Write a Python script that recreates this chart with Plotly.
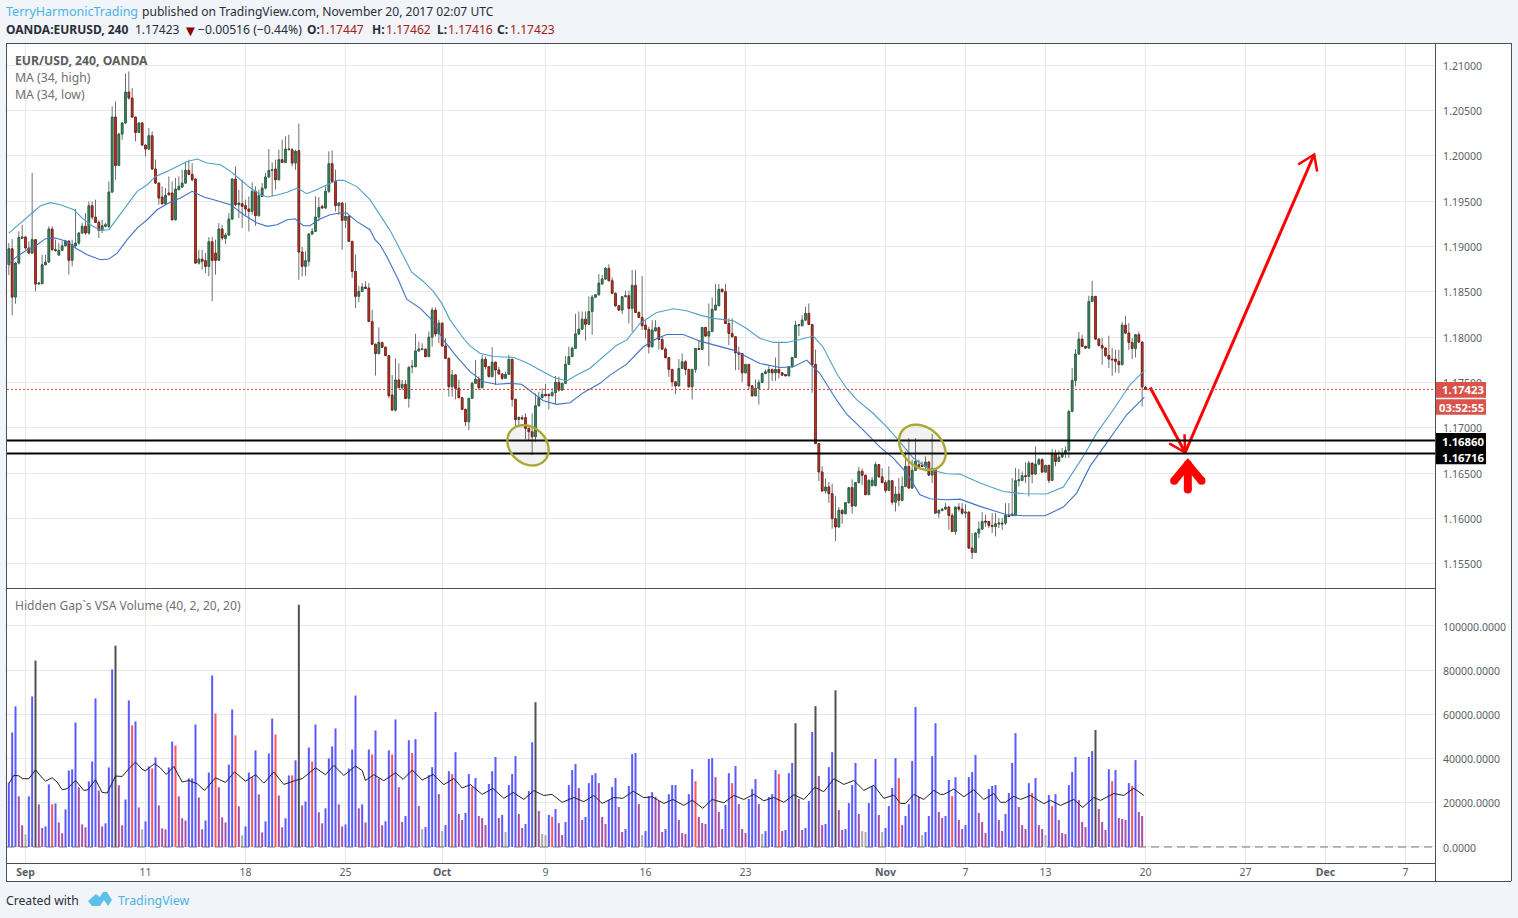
import math
import plotly.graph_objects as go

W, H = 1518, 918
FONT = "Noto Sans"

# ---------- price candles, one entry per 4-hour bar ----------
opens = [
1.18798,1.18974,1.18441,1.18816,1.19088,1.19103,1.18982,1.18926,1.19074,1.18585,
1.18588,1.18798,1.18827,1.19191,1.18963,1.18904,1.18956,1.19007,1.19059,1.18846,
1.19007,1.19037,1.19147,1.19221,1.19147,1.19448,1.19323,1.19265,1.19176,1.19221,
1.19221,1.19599,1.20426,1.19893,1.20239,1.20360,1.20702,1.20636,1.20426,1.20257,
1.20360,1.20117,1.20073,1.20220,1.19853,1.19698,1.19544,1.19470,1.19588,1.19588,
1.19294,1.19625,1.19654,1.19698,1.19838,1.19794,1.19743,1.18816,1.18860,1.18842,
1.18779,1.19051,1.18926,1.18846,1.19191,1.19088,1.19125,1.19301,1.19743,1.19460,
1.19470,1.19448,1.19412,1.19386,1.19607,1.19338,1.19551,1.19643,1.19765,1.19838,
1.19853,1.19735,1.19956,1.19926,1.20066,1.20066,1.19919,1.20055,1.18938,1.18780,
1.18835,1.19136,1.19166,1.19324,1.19441,1.19423,1.19607,1.19912,1.19717,1.19449,
1.19478,1.19287,1.19331,1.19055,1.18724,1.18449,1.18504,1.18552,1.18540,1.18171,
1.17921,1.17818,1.17939,1.17888,1.17796,1.17361,1.17195,1.17527,1.17442,1.17479,
1.17324,1.17670,1.17674,1.17847,1.17862,1.17866,1.17785,1.17998,1.18297,1.18035,
1.18153,1.17902,1.17766,1.17453,1.17582,1.17435,1.17332,1.17203,1.17066,1.17324,
1.17490,1.17534,1.17442,1.17755,1.17674,1.17564,1.17722,1.17637,1.17593,1.17545,
1.17589,1.17755,1.17313,1.17092,1.17111,1.17111,1.16993,1.16956,1.16901,1.17243,
1.17332,1.17368,1.17368,1.17354,1.17387,1.17501,1.17416,1.17490,1.17700,1.17785,
1.17877,1.18035,1.18087,1.18197,1.18142,1.18282,1.18440,1.18466,1.18585,1.18640,
1.18758,1.18621,1.18482,1.18345,1.18298,1.18445,1.18456,1.18316,1.18570,1.18272,
1.18217,1.18132,1.18084,1.17893,1.18069,1.18103,1.17974,1.17867,1.17775,1.17643,
1.17506,1.17462,1.17654,1.17727,1.17643,1.17451,1.17643,1.17874,1.17863,1.18106,
1.18011,1.18062,1.18298,1.18345,1.18526,1.18500,1.18150,1.18040,1.18003,1.17827,
1.17819,1.17606,1.17698,1.17462,1.17352,1.17433,1.17499,1.17598,1.17609,1.17643,
1.17606,1.17643,1.17606,1.17587,1.17573,1.17672,1.17775,1.18128,1.18125,1.18187,
1.18261,1.18139,1.17698,1.16826,1.16513,1.16303,1.16347,1.16274,1.15998,1.15906,
1.16090,1.16053,1.16174,1.16340,1.16137,1.16395,1.16520,1.16476,1.16263,1.16362,
1.16362,1.16594,1.16458,1.16395,1.16309,1.16416,1.16180,1.16269,1.16199,1.16353,
1.16574,1.16335,1.16530,1.16592,1.16585,1.16574,1.16622,1.16478,1.16548,1.16059,
1.16088,1.16103,1.16125,1.16033,1.15857,1.16125,1.16103,1.16059,1.16070,1.15673,
1.15625,1.15839,1.15883,1.15971,1.15967,1.15923,1.15912,1.15938,1.15949,1.15949,
1.16033,1.16033,1.16033,1.16416,1.16419,1.16471,1.16463,1.16610,1.16489,1.16599,
1.16647,1.16511,1.16585,1.16419,1.16713,1.16629,1.16677,1.16713,1.16750,1.17180,
1.17522,1.17813,1.17978,1.17897,1.17879,1.18393,1.18448,1.17978,1.17908,1.17879,
1.17798,1.17757,1.17757,1.17732,1.17695,1.18132,1.18044,1.17941,1.17875,1.18026,
1.17945,1.17447]

closes = [
1.18974,1.18441,1.18816,1.19099,1.19103,1.18982,1.18926,1.19074,1.18585,1.18596,
1.18798,1.18827,1.19191,1.18963,1.18956,1.18956,1.19007,1.19059,1.18846,1.19018,
1.19037,1.19147,1.19221,1.19147,1.19448,1.19323,1.19265,1.19176,1.19228,1.19239,
1.19599,1.20426,1.19893,1.20239,1.20360,1.20702,1.20636,1.20426,1.20257,1.20360,
1.20117,1.20073,1.20220,1.19853,1.19698,1.19533,1.19470,1.19562,1.19570,1.19294,
1.19632,1.19662,1.19698,1.19838,1.19794,1.19735,1.18816,1.18860,1.18835,1.18779,
1.19051,1.18846,1.18846,1.19191,1.19092,1.19125,1.19301,1.19743,1.19460,1.19478,
1.19441,1.19412,1.19386,1.19607,1.19338,1.19559,1.19643,1.19765,1.19838,1.19845,
1.19735,1.19956,1.19926,1.20073,1.20073,1.19919,1.20048,1.18938,1.18780,1.18842,
1.19136,1.19166,1.19324,1.19430,1.19423,1.19607,1.19912,1.19717,1.19449,1.19478,
1.19287,1.19331,1.19055,1.18724,1.18449,1.18504,1.18552,1.18537,1.18171,1.17921,
1.17818,1.17943,1.17888,1.17796,1.17354,1.17195,1.17527,1.17442,1.17479,1.17324,
1.17667,1.17678,1.17847,1.17869,1.17869,1.17785,1.17998,1.18297,1.18035,1.18153,
1.17902,1.17766,1.17453,1.17582,1.17435,1.17332,1.17203,1.17066,1.17324,1.17490,
1.17534,1.17442,1.17755,1.17674,1.17564,1.17722,1.17637,1.17593,1.17545,1.17589,
1.17755,1.17313,1.17092,1.17114,1.17100,1.16993,1.16956,1.16901,1.17243,1.17332,
1.17368,1.17354,1.17354,1.17387,1.17501,1.17416,1.17490,1.17700,1.17785,1.17877,
1.18035,1.18087,1.18197,1.18142,1.18282,1.18440,1.18466,1.18595,1.18640,1.18758,
1.18621,1.18482,1.18345,1.18298,1.18445,1.18456,1.18316,1.18570,1.18272,1.18217,
1.18125,1.18084,1.17893,1.18077,1.18103,1.17974,1.17867,1.17775,1.17643,1.17506,
1.17462,1.17654,1.17727,1.17643,1.17451,1.17643,1.17874,1.17863,1.18106,1.18011,
1.18062,1.18305,1.18353,1.18526,1.18500,1.18150,1.18040,1.18003,1.17827,1.17812,
1.17606,1.17698,1.17462,1.17352,1.17433,1.17499,1.17598,1.17617,1.17643,1.17606,
1.17643,1.17606,1.17580,1.17573,1.17672,1.17775,1.18132,1.18136,1.18187,1.18261,
1.18139,1.17698,1.16826,1.16513,1.16303,1.16347,1.16274,1.15998,1.15906,1.16090,
1.16053,1.16174,1.16340,1.16137,1.16395,1.16520,1.16476,1.16263,1.16421,1.16421,
1.16594,1.16458,1.16395,1.16309,1.16416,1.16180,1.16269,1.16199,1.16353,1.16574,
1.16335,1.16530,1.16629,1.16574,1.16574,1.16622,1.16478,1.16548,1.16059,1.16088,
1.16103,1.16125,1.16033,1.15857,1.16125,1.16103,1.16059,1.16070,1.15673,1.15625,
1.15839,1.15883,1.15967,1.15960,1.15923,1.15912,1.15941,1.15949,1.15941,1.16033,
1.16022,1.16048,1.16416,1.16427,1.16471,1.16463,1.16610,1.16489,1.16599,1.16647,
1.16511,1.16585,1.16419,1.16713,1.16629,1.16677,1.16713,1.16750,1.17180,1.17522,
1.17813,1.17978,1.17897,1.17879,1.18393,1.18448,1.17978,1.17908,1.17879,1.17798,
1.17757,1.17750,1.17732,1.17695,1.18132,1.18044,1.17941,1.17875,1.18026,1.17945,
1.17449,1.17423]

highs = [
1.19037,1.19081,1.18830,1.19165,1.19239,1.19110,1.19055,1.19809,1.19080,1.18600,
1.18908,1.18908,1.19221,1.19221,1.19074,1.19037,1.19060,1.19074,1.19066,1.19074,
1.19412,1.19155,1.19257,1.19368,1.19496,1.19496,1.19515,1.19294,1.19294,1.19260,
1.19717,1.20544,1.20599,1.20250,1.20370,1.20904,1.20930,1.20746,1.20430,1.20370,
1.20370,1.20125,1.20305,1.20268,1.19956,1.19705,1.19662,1.19643,1.19772,1.19717,
1.19754,1.19772,1.19845,1.19919,1.19956,1.19919,1.19750,1.18963,1.18963,1.18926,
1.19103,1.19103,1.19074,1.19257,1.19239,1.19147,1.19368,1.19750,1.19882,1.19625,
1.19735,1.19515,1.19551,1.19706,1.19662,1.19625,1.19698,1.19809,1.20073,1.19926,
1.19956,1.20066,1.20176,1.20213,1.20231,1.20084,1.20066,1.20353,1.18993,1.18945,
1.19145,1.19202,1.19552,1.19544,1.19460,1.19662,1.20048,1.20059,1.19846,1.19485,
1.19485,1.19478,1.19338,1.19060,1.18908,1.18566,1.18596,1.18614,1.18595,1.18300,
1.17927,1.18109,1.17950,1.17895,1.17800,1.17582,1.17766,1.17711,1.17527,1.17527,
1.17675,1.17748,1.18035,1.17950,1.17932,1.17875,1.18061,1.18326,1.18326,1.18190,
1.18160,1.17987,1.17772,1.17637,1.17590,1.17527,1.17340,1.17210,1.17330,1.17508,
1.17748,1.17564,1.17803,1.17785,1.17680,1.17888,1.17730,1.17674,1.17600,1.17619,
1.17803,1.17762,1.17320,1.17125,1.17140,1.17158,1.17000,1.17158,1.17379,1.17398,
1.17435,1.17483,1.17375,1.17435,1.17571,1.17564,1.17497,1.17792,1.17895,1.17895,
1.18256,1.18282,1.18282,1.18282,1.18448,1.18466,1.18475,1.18694,1.18684,1.18770,
1.18802,1.18658,1.18493,1.18350,1.18452,1.18511,1.18511,1.18739,1.18739,1.18280,
1.18673,1.18187,1.18114,1.18187,1.18187,1.18114,1.18003,1.17885,1.17780,1.17650,
1.17512,1.17757,1.17819,1.17746,1.17650,1.17650,1.17880,1.17966,1.18112,1.18112,
1.18371,1.18437,1.18585,1.18585,1.18537,1.18585,1.18206,1.18206,1.18010,1.17893,
1.17827,1.17705,1.17705,1.17470,1.17532,1.17532,1.17606,1.17643,1.17690,1.17654,
1.17775,1.17937,1.17612,1.17593,1.17680,1.17782,1.18180,1.18143,1.18242,1.18334,
1.18371,1.18145,1.17863,1.16832,1.16575,1.16439,1.16402,1.16384,1.16244,1.16127,
1.16097,1.16180,1.16347,1.16432,1.16402,1.16568,1.16550,1.16483,1.16430,1.16458,
1.16623,1.16600,1.16555,1.16420,1.16574,1.16425,1.16353,1.16445,1.16463,1.16739,
1.16886,1.16647,1.16886,1.16647,1.16629,1.16684,1.16630,1.16934,1.16555,1.16103,
1.16114,1.16169,1.16140,1.16059,1.16132,1.16169,1.16169,1.16158,1.16077,1.15839,
1.15846,1.15967,1.16070,1.16041,1.15975,1.16059,1.16059,1.16004,1.16004,1.16169,
1.16169,1.16445,1.16555,1.16544,1.16519,1.16618,1.16636,1.16618,1.16794,1.16666,
1.16666,1.16592,1.16592,1.16765,1.16758,1.16750,1.16776,1.16794,1.17199,1.17658,
1.17868,1.18055,1.18026,1.17904,1.18456,1.18621,1.18455,1.17985,1.17989,1.17885,
1.18015,1.17879,1.17860,1.17860,1.18165,1.18235,1.18154,1.17989,1.18033,1.18062,
1.17952,1.17462]

lows = [
1.18684,1.18239,1.18368,1.18800,1.19080,1.18963,1.18919,1.18919,1.18504,1.18580,
1.18585,1.18790,1.18820,1.18955,1.18941,1.18900,1.18950,1.19000,1.18688,1.18779,
1.18982,1.19018,1.19140,1.19129,1.19130,1.19294,1.19257,1.19092,1.19147,1.19210,
1.19202,1.19590,1.19735,1.19885,1.20176,1.20350,1.20617,1.20418,1.20158,1.20250,
1.20110,1.19993,1.20065,1.19845,1.19690,1.19460,1.19462,1.19462,1.19560,1.19283,
1.19285,1.19618,1.19643,1.19690,1.19785,1.19717,1.18810,1.18798,1.18743,1.18706,
1.18669,1.18393,1.18688,1.18840,1.19066,1.19029,1.19118,1.19295,1.19441,1.19312,
1.19202,1.19331,1.19165,1.19349,1.19228,1.19330,1.19545,1.19625,1.19754,1.19551,
1.19625,1.19728,1.19918,1.19920,1.20060,1.19882,1.19845,1.18632,1.18669,1.18677,
1.18780,1.19130,1.19160,1.19276,1.19415,1.19415,1.19588,1.19710,1.19386,1.19349,
1.18963,1.19202,1.19048,1.18651,1.18320,1.18383,1.18495,1.18530,1.18165,1.17915,
1.17575,1.17810,1.17880,1.17790,1.17324,1.17190,1.17177,1.17435,1.17416,1.17317,
1.17221,1.17600,1.17667,1.17840,1.17855,1.17775,1.17778,1.17895,1.18006,1.17932,
1.17895,1.17760,1.17343,1.17343,1.17313,1.17325,1.17195,1.17019,1.16974,1.17317,
1.17483,1.17416,1.17435,1.17645,1.17556,1.17556,1.17472,1.17586,1.17527,1.17538,
1.17582,1.17232,1.17011,1.17030,1.17085,1.16871,1.16864,1.16698,1.16845,1.17235,
1.17325,1.17345,1.17203,1.17343,1.17262,1.17398,1.17405,1.17483,1.17693,1.17778,
1.17870,1.18024,1.18080,1.17961,1.18135,1.18024,1.18435,1.18460,1.18578,1.18630,
1.18615,1.18474,1.18334,1.18290,1.18253,1.18440,1.18150,1.18058,1.18265,1.18210,
1.18077,1.17985,1.17819,1.17885,1.18062,1.17863,1.17856,1.17764,1.17562,1.17451,
1.17370,1.17455,1.17648,1.17580,1.17445,1.17311,1.17606,1.17856,1.17856,1.18005,
1.17679,1.18055,1.18290,1.18340,1.18495,1.18145,1.17911,1.17995,1.17635,1.17635,
1.17506,1.17600,1.17414,1.17341,1.17349,1.17256,1.17492,1.17590,1.17422,1.17517,
1.17517,1.17543,1.17575,1.17568,1.17568,1.17665,1.17770,1.18011,1.18118,1.18180,
1.18132,1.17385,1.16820,1.16413,1.16297,1.16274,1.16170,1.15887,1.15751,1.15900,
1.15942,1.16045,1.16163,1.16053,1.16130,1.16388,1.16365,1.16255,1.16255,1.16355,
1.16355,1.16450,1.16395,1.16285,1.16300,1.16150,1.16077,1.16133,1.16190,1.16345,
1.16328,1.16328,1.16522,1.16565,1.16567,1.16519,1.16470,1.16390,1.16050,1.16004,
1.16077,1.16096,1.15875,1.15850,1.15820,1.16077,1.16041,1.16004,1.15665,1.15552,
1.15618,1.15783,1.15875,1.15912,1.15894,1.15839,1.15802,1.15894,1.15875,1.15930,
1.16015,1.16022,1.16026,1.16353,1.16408,1.16390,1.16243,1.16390,1.16482,1.16592,
1.16504,1.16504,1.16390,1.16412,1.16574,1.16622,1.16670,1.16666,1.16666,1.17172,
1.17456,1.17805,1.17890,1.17868,1.17868,1.18385,1.17970,1.17897,1.17695,1.17779,
1.17658,1.17574,1.17610,1.17603,1.17690,1.18037,1.17860,1.17757,1.17776,1.17938,
1.17235,1.17416]

# ---------- MA (34, high) ----------
ma_high_x = [0,3.5,6.5,9.5,12.5,15.5,19.5,22,24.5,27.5,30,32.5,35.5,38.5,41.5,44,47.5,50.5,53.5,56.5,59.5,63.5,66.5,69.5,72.5,75.5,77.5,80.5,83.5,86.5,
89.35,92.35,95.35,98.35,100.35,104.35,108.35,111.35,114.35,115.85,118.35,120.85,124.35,127.35,129.85,132.35,136.35,138.35,141.35,145.35,151.35,155.35,159.35,163.35,167.35,170.35,174.35,177.35,
182.35,185.35,189.35,194.35,199.35,203.35,207.35,211.35,217.35,221.35,225.35,229.35,233.35,237.35,241.35,244.35,248.35,251.35,254.35,259.35,263.35,266.35,271.35,276.35,281.35,285.35,291.35,298.35,304.35,311.35,316.35,322.35,326.35,331.35,336.35,340.65]
ma_high = [1.19147,1.19257,1.19349,1.19448,1.19482,1.19460,1.19404,1.19312,1.19239,1.19176,1.19184,1.19312,1.19460,1.19607,1.19680,1.19772,1.19827,1.19882,1.19937,1.19963,1.19919,1.19901,1.19827,1.19735,1.19643,1.19570,1.19544,1.19566,1.19596,1.19643,
1.19581,1.19625,1.19680,1.19728,1.19728,1.19662,1.19515,1.19349,1.19177,1.19074,1.18890,1.18716,1.18613,1.18503,1.18374,1.18190,1.17987,1.17902,1.17821,1.17785,1.17777,1.17718,1.17637,1.17556,1.17516,1.17582,1.17656,1.17750,
1.17911,1.17966,1.18150,1.18272,1.18312,1.18290,1.18242,1.18206,1.18180,1.18095,1.17985,1.17941,1.17941,1.17974,1.18011,1.17885,1.17598,1.17433,1.17311,1.17157,1.17010,1.16886,1.16666,1.16537,1.16493,1.16489,1.16390,1.16298,1.16272,1.16269,1.16346,1.16684,1.16941,1.17199,1.17474,1.17629]

# ---------- MA (34, low) ----------
ma_low_x = [0,2.5,5.5,8.5,11,14,17.5,20,23.5,27.5,30,32.5,35.5,38.5,41.5,44.5,47.5,51.5,55,58.5,62.5,66.5,70.5,74.5,77.5,80.5,83.5,85.85,88.35,90.35,92.85,96.35,99.35,101.35,104.35,108.35,109.85,111.35,113.35,116.85,119.35,123.35,126.85,130.35,134.35,138.35,142.35,146.35,150.35,153.85,157.35,160.35,164.35,168.35,172.35,177.35,
180.35,185.35,190.35,194.35,197.35,202.35,207.35,213.35,217.35,222.35,225.35,231.35,235.35,239.35,243.35,248.35,251.35,256.35,261.35,265.35,269.35,273.35,276.35,281.35,285.35,291.35,299.35,304.35,310.85,316.35,320.35,324.35,329.35,335.35,340.65]
ma_low = [1.18816,1.18890,1.18963,1.19018,1.19085,1.19092,1.19055,1.18982,1.18908,1.18853,1.18860,1.18926,1.19074,1.19202,1.19294,1.19404,1.19470,1.19533,1.19607,1.19544,1.19504,1.19460,1.19349,1.19257,1.19221,1.19239,1.19294,1.19305,1.19228,1.19228,1.19294,1.19349,1.19368,1.19368,1.19276,1.19184,1.19074,1.19018,1.18890,1.18632,1.18418,1.18319,1.18190,1.17969,1.17785,1.17619,1.17508,1.17479,1.17490,1.17479,1.17380,1.17298,1.17258,1.17276,1.17387,1.17490,
1.17580,1.17701,1.17893,1.17985,1.18029,1.18029,1.17955,1.17900,1.17856,1.17764,1.17709,1.17665,1.17672,1.17746,1.17598,1.17304,1.17149,1.16973,1.16787,1.16666,1.16500,1.16261,1.16217,1.16206,1.16213,1.16133,1.16041,1.16030,1.16030,1.16125,1.16280,1.16574,1.16831,1.17143,1.17338]

# ---------- volume (thousands) and VSA bar kinds ----------
volume_k = [
29.1,51.8,63.6,22.9,9.8,5.7,22.9,68.1,84.3,19.3,
8.6,9.3,28.3,19.3,19.7,11.1,6.2,17.0,34.6,35.1,
56.3,27.0,10.2,8.9,29.7,38.7,67.2,25.6,9.3,10.7,
36.0,80.3,91.1,27.9,9.8,21.5,66.3,55.0,56.8,17.9,
8.0,11.6,36.4,35.5,40.5,18.8,8.4,8.0,36.0,47.7,
45.9,22.9,13.0,12.0,31.0,31.0,55.4,22.4,8.0,12.0,
33.7,77.6,60.4,27.0,13.4,11.1,37.3,62.2,50.5,18.4,
5.3,9.3,33.7,31.6,43.7,23.8,6.6,11.6,42.3,58.1,
50.9,23.3,8.9,13.0,32.4,32.4,39.2,109.6,18.8,20.6,
45.0,38.7,55.4,15.7,10.7,17.5,40.1,45.5,53.6,19.3,
9.3,10.2,35.5,44.1,68.5,17.5,19.3,11.1,44.1,41.9,
52.7,31.0,9.8,11.6,43.7,41.9,57.7,27.0,11.3,14.0,
48.3,42.5,48.8,18.5,8.1,9.0,32.5,36.1,61.0,23.9,
7.2,9.9,34.3,33.0,42.9,14.9,12.2,15.4,33.0,27.1,
31.2,14.0,13.1,9.9,28.5,34.3,40.7,13.1,14.5,6.8,
28.0,33.0,41.1,14.9,8.6,10.4,25.3,47.4,65.5,16.3,
5.9,5.4,14.5,13.6,17.2,10.8,5.4,11.3,28.0,34.8,
37.5,26.7,12.2,13.6,28.9,32.5,33.4,28.9,13.6,10.4,
21.2,27.1,31.2,18.1,6.8,8.1,27.6,42.0,42.5,19.4,
5.4,7.2,23.0,24.8,22.7,20.8,6.8,8.1,23.9,28.0,
28.0,12.2,6.3,5.9,23.9,35.2,29.8,13.6,10.8,10.4,
39.8,40.2,31.6,15.8,8.1,19.0,33.4,28.9,36.6,19.4,
8.1,6.3,21.7,26.2,30.7,19.4,5.9,7.2,22.6,23.9,
34.8,33.0,7.2,7.7,33.4,38.0,56.0,21.7,7.7,8.6,
20.8,52.0,63.7,32.1,9.9,10.4,36.1,42.9,70.9,16.7,
7.7,8.1,19.9,28.0,38.0,14.9,7.2,6.8,19.9,27.6,
39.8,14.5,6.8,8.6,18.5,26.7,40.2,31.2,9.9,14.0,
19.4,38.9,63.3,22.6,5.4,6.8,14.0,41.1,56.0,15.8,
13.1,14.0,30.3,23.0,31.6,12.2,8.1,9.9,31.6,33.9,
41.6,15.4,11.3,6.3,26.2,27.6,28.0,12.2,7.2,14.9,
24.4,38.0,51.5,18.1,9.9,8.1,28.9,24.4,31.2,9.9,
8.1,5.4,23.5,18.5,23.9,12.2,6.3,5.9,28.0,33.9,
40.7,21.2,11.3,9.0,40.7,43.4,52.9,17.2,11.3,7.7,
35.2,29.8,34.8,13.1,12.7,12.2,28.9,27.6,39.3,15.8,
14.0,0.0]

volume_kind = (
"BBBPPGBBKP" "PBBRBPPBBB" "BPPPBBBPPB" "BBKPPBBRBP" "GBBRBPPPBB"
"RPPPBBBPPB" "BBRPPPBBRP" "GBBRBPPBBB" "RPPBBRBKPB" "BRBPPBBBBP"
"PBBBBPBPBR" "BPPBBRBPPB" "BRBPGBBBBP" "GBBRBPPBBR" "BPPPBBBPBG"
"BBBPPBBBKP" "GGBRBPPBBB" "BPPBBBBPPP" "BBBPPBBBBP" "GBBBPPPBBB"
"BPPPBBRPPP" "BBPPPBBRBP" "PPBBBPGBBB" "BRPBBBKPPB" "BBKPPBBBKP"
"PBBBBPGGBB" "BPGBBBBRPB" "BBBPGBBBBP" "PBBRBPPBBB" "BPPPBBBPPB"
"BBBPPPBRBP" "PGBRBPPPBB" "BPPPBBKPPP" "BRBPPPBRBP" "PG")

# ---------- volume moving average (thousands) ----------
vol_ma_x = [0.1,1.5,3,4.1,6,8,10,11,13,14.5,16,17.5,20,22.5,23.7,26,28,29.5,32,34,36,38,40,41,43.7,45.5,47.2,49.5,52,54,56.5,58.7,62,65,67.7,71,74,76.5,79.5,82.5,86,88,92,95,97.5,100.5,104,106,107,109.5,112.5,116,
118.3,121,124,127.3,130.5,133.5,136,138.5,142,145.2,148.5,151.3,154.5,157.5,160.5,163,166,169.5,172.5,175.5,178,181.5,184.2,187.3,190.5,193,196.5,199.2,202.5,205,208.2,211,214.5,217.5,220.5,223.5,226.5,229.5,232.5,235.5,
238.5,241.8,244.5,247.5,250.5,253.5,256.5,259.5,262.5,265.5,267.5,269,271.5,274.5,277.5,279.5,280.5,283.5,286.5,289.5,292.5,295.5,297.5,299,301.5,303.5,306.5,310.5,312.5,315.5,319.5,322.2,325.5,327.5,331.5,334.5,337.5,340.5]
vol_ma_k = [28.9,32.4,32.2,30.9,30.9,34.9,31.3,29.8,31.3,29.4,25.9,26.4,30.1,25.6,25.9,30.4,24.7,24.4,32.1,31.9,35.4,38.4,35.1,34.5,37.7,35.7,32.8,36.4,29.4,30.1,28.6,25.6,31.3,29.2,34.0,29.8,32.7,28.9,33.9,28.3,30.1,30.9,35.8,32.7,36.9,32.4,36.6,34.6,30.1,32.7,30.0,33.6,
30.6,34.8,30.3,32.8,28.2,31.0,26.7,28.2,23.8,26.5,22.0,24.7,21.5,25.5,23.3,23.8,20.2,22.4,20.5,23.3,19.7,22.4,22.0,25.2,22.3,22.7,19.7,21.5,18.8,21.2,17.5,21.5,20.0,23.3,21.5,23.8,20.9,22.4,20.2,23.6,
21.5,27.0,25.0,30.9,28.3,30.1,25.6,27.9,22.0,23.5,19.7,19.7,23.8,21.5,25.6,23.8,23.8,26.2,22.7,25.9,21.5,24.2,20.2,20.2,22.9,21.5,23.3,19.6,21.1,18.8,21.5,17.9,22.4,21.1,24.2,23.3,26.6,23.3]

# ---------- axis labels ----------
date_ticks = [5, 41, 71, 101, 130, 161, 191, 221, 263, 287, 311, 341, 371, 395, 419]
date_labels = ["<b>Sep</b>", "11", "18", "25", "<b>Oct</b>", "9", "16", "23", "<b>Nov</b>", "7", "13", "20", "27", "<b>Dec</b>", "7"]
price_ticks = [1.155, 1.16, 1.165, 1.17, 1.175, 1.18, 1.185, 1.19, 1.195, 1.20, 1.205, 1.21]
volume_ticks = [0, 20000, 40000, 60000, 80000, 100000]
level_prices = [1.16860, 1.16716]
last_price = 1.17423

# forecast drawing, (bar, price)
path_x = [342.4, 352.9, 391.6]
path_y = [1.17444, 1.16727, 1.20013]

assert len(opens) == len(closes) == len(highs) == len(lows) == len(volume_k) == len(volume_kind) == 342
assert len(ma_high) == len(ma_high_x) and len(ma_low) == len(ma_low_x) and len(vol_ma_k) == len(vol_ma_x)

bars = list(range(len(opens)))
BODY_UP, EDGE_UP = "#3d9066", "#2a6445"
BODY_DN, EDGE_DN = "#cc3a2b", "#7a2016"
KIND_COLOR = {"B": "#5a5aff", "P": "#a650a8", "R": "#ff5555", "G": "#aaaaaa", "K": "#505050"}
GRID = "#e8e8e8"
BORDER = "#4b4f56"
TICK = "#5a5e66"


def fx(px):
    return px / W


def fy(py):
    return 1 - py / H


XR = [-0.55, 427.85]
fig = go.Figure()

fig.add_trace(go.Scatter(x=ma_high_x, y=ma_high, mode="lines", line=dict(color="#4f9fc8", width=1.1),
                         name="MA (34, high)", xaxis="x", yaxis="y", hoverinfo="skip"))
fig.add_trace(go.Scatter(x=ma_low_x, y=ma_low, mode="lines", line=dict(color="#3f72c6", width=1.1),
                         name="MA (34, low)", xaxis="x", yaxis="y", hoverinfo="skip"))
# wicks
fig.add_trace(go.Candlestick(x=bars, open=opens, high=highs, low=lows, close=closes, whiskerwidth=0,
                             increasing=dict(line=dict(color="#707070", width=1), fillcolor=BODY_UP),
                             decreasing=dict(line=dict(color="#707070", width=1), fillcolor=BODY_DN),
                             xaxis="x", yaxis="y", name="EUR/USD wicks", hoverinfo="skip"))
# bodies with their dark edges
fig.add_trace(go.Candlestick(x=bars, open=opens, close=closes,
                             high=[max(o, c) for o, c in zip(opens, closes)],
                             low=[min(o, c) for o, c in zip(opens, closes)], whiskerwidth=0,
                             increasing=dict(line=dict(color=EDGE_UP, width=0.9), fillcolor=BODY_UP),
                             decreasing=dict(line=dict(color=EDGE_DN, width=0.9), fillcolor=BODY_DN),
                             xaxis="x", yaxis="y", name="EUR/USD", hoverinfo="skip"))

fig.add_trace(go.Bar(x=bars, y=[v * 1000 for v in volume_k], width=0.6,
                     marker=dict(color=[KIND_COLOR[k] for k in volume_kind], line=dict(width=0)),
                     xaxis="x2", yaxis="y2", name="Volume", hoverinfo="skip"))
fig.add_trace(go.Scatter(x=vol_ma_x, y=[v * 1000 for v in vol_ma_k], mode="lines",
                         line=dict(color="#222222", width=1), xaxis="x2", yaxis="y2", name="Volume MA", hoverinfo="skip"))

# forecast path and heads
RED = "#ff0000"
fig.add_trace(go.Scatter(x=path_x, y=path_y, mode="lines", line=dict(color=RED, width=3), xaxis="x", yaxis="y", hoverinfo="skip"))
for hx, hy in [([348.1, 352.9, 352.7], [1.16827, 1.16727, 1.16929]), ([386.8, 391.6, 392.5], [1.19903, 1.20013, 1.19826])]:
    fig.add_trace(go.Scatter(x=hx, y=hy, mode="lines", line=dict(color=RED, width=2.5), xaxis="x", yaxis="y", hoverinfo="skip"))
fig.add_trace(go.Scatter(x=[353.7, 353.7], y=[1.16320, 1.16560], mode="lines+markers", line=dict(color=RED, width=8),
                         marker=dict(color=RED, size=8, line=dict(width=0)), xaxis="x", yaxis="y", hoverinfo="skip"))
fig.add_trace(go.Scatter(x=[349.6, 353.7, 357.8], y=[1.16415, 1.16598, 1.16415], mode="lines+markers",
                         line=dict(color=RED, width=8), marker=dict(color=RED, size=8, line=dict(width=0)),
                         xaxis="x", yaxis="y", hoverinfo="skip"))

shapes = []


def rect(x0, y0, x1, y1, fill, layer="below", line=None):
    shapes.append(dict(type="rect", xref="paper", yref="paper", x0=fx(x0), x1=fx(x1), y0=fy(y0), y1=fy(y1),
                       fillcolor=fill, line=dict(width=0) if line is None else line, layer=layer))


def seg(x0, y0, x1, y1, color, width=1, layer="above", dash=None):
    shapes.append(dict(type="line", xref="paper", yref="paper", x0=fx(x0), x1=fx(x1), y0=fy(y0), y1=fy(y1),
                       line=dict(color=color, width=width, dash=dash), layer=layer))


def ellipse(cx, cy, a, b, tilt):
    t = math.radians(tilt)
    pts = []
    for k in range(73):
        u = 2 * math.pi * k / 72
        ex = a * math.cos(u) * math.cos(t) - b * math.sin(u) * math.sin(t)
        ey = a * math.cos(u) * math.sin(t) + b * math.sin(u) * math.cos(t)
        pts.append((fx(cx + ex), fy(cy + ey)))
    d = "M " + " L ".join(f"{p[0]:.5f},{p[1]:.5f}" for p in pts) + " Z"
    shapes.append(dict(type="path", xref="paper", yref="paper", path=d, fillcolor="rgba(110,110,110,0.09)",
                       line=dict(color="#aaa833", width=2.4), layer="above"))


# white chart card and frame
rect(6, 43, 1511, 881, "#ffffff")
seg(6, 43.5, 1511, 43.5, BORDER)
seg(6, 881.5, 1511, 881.5, BORDER)
seg(6.5, 43, 6.5, 881, BORDER)
seg(1511.5, 43, 1511.5, 881, BORDER)
seg(1435.5, 43, 1435.5, 881, BORDER)
seg(6, 588.5, 1435, 588.5, BORDER)
seg(6, 863.5, 1435, 863.5, BORDER)

# level lines, last price, zero line
for lp in level_prices:
    shapes.append(dict(type="line", xref="paper", yref="y", x0=fx(7), x1=fx(1435), y0=lp, y1=lp,
                       line=dict(color="#000000", width=2), layer="above"))
shapes.append(dict(type="line", xref="paper", yref="y", x0=fx(7), x1=fx(1435), y0=last_price, y1=last_price,
                   line=dict(color="#d2402f", width=1, dash="2px,2px"), layer="above"))
shapes.append(dict(type="line", xref="paper", yref="y2", x0=fx(7), x1=fx(1435), y0=0, y1=0,
                   line=dict(color="#787878", width=1, dash="8px,5px"), layer="above"))

ellipse(528, 445.3, 22.5, 18, 42)
ellipse(922.3, 447.3, 26, 19.5, 42)

# price tags on the right scale
rect(1436, 382, 1486, 397.7, "#d9534a", "above")
rect(1436, 399.3, 1486, 414.7, "#d9534a", "above")
rect(1436, 433, 1486, 464.3, "#000000", "above")

# TradingView logo
LOGO = "#5cc0e8"
shapes.append(dict(type="path", xref="paper", yref="paper", fillcolor=LOGO, line=dict(width=0), layer="above",
                   path="M " + " L ".join(f"{fx(a):.5f},{fy(b):.5f}" for a, b in
                                          [(88, 901), (96, 894), (100, 897), (103, 892), (107, 892), (112, 900),
                                           (108, 906), (104, 900), (100, 906), (92, 906)]) + " Z"))

annotations = []


def txt(x, y, s, size=12, color="#333333", anchor="left"):
    annotations.append(dict(text=s, x=fx(x), y=fy(y), xref="paper", yref="paper", xanchor=anchor, yanchor="middle",
                            showarrow=False, borderpad=0, borderwidth=0,
                            font=dict(family=FONT, size=size, color=color)))


# header
txt(6, 12, "TerryHarmonicTrading", 12.5, "#4db3e6")
txt(142, 12, "published on TradingView.com, November 20, 2017 02:07 UTC", 12.1, "#2a2e39")
txt(6, 30, "<b>OANDA:EURUSD, 240</b>", 12, "#2a2e39")
txt(135, 30, "1.17423", 12, "#2a2e39")
txt(183, 30, "▼", 15, "#8b0000")
txt(198, 30, "−0.00516 (−0.44%)", 12.2, "#2a2e39")
DARKRED = "#a52020"
for lab, xl, val, xv in [("O:", 307, "1.17447", 319), ("H:", 372, "1.17462", 386),
                         ("L:", 437, "1.17416", 448), ("C:", 497, "1.17423", 510)]:
    txt(xl, 30, f"<b>{lab}</b>", 12, "#2a2e39")
    txt(xv, 30, val, 12.1, DARKRED)

# pane legends
txt(15, 60.7, "<b>EUR/USD, 240, OANDA</b>", 12.2, "#5c5c5c")
txt(15, 77.7, "MA (34, high)", 12.2, "#6f6f6f")
txt(15, 94.7, "MA (34, low)", 12.2, "#6f6f6f")
txt(15, 605.5, "Hidden Gap`s VSA Volume (40, 2, 20, 20)", 12.1, "#6f6f6f")

# right scale tags
txt(1442, 389.8, "<b>1.17423</b>", 11.3, "#ffffff")
txt(1439, 407, "<b>03:52:55</b>", 11.3, "#ffffff")
txt(1442, 441, "<b>1.16860</b>", 11.3, "#ffffff")
txt(1442, 457, "<b>1.16716</b>", 11.3, "#ffffff")

# footer
txt(6, 900.5, "Created with", 12.2, "#2a2e39")
txt(118, 900.5, "TradingView", 12.4, "#4db3e6")

py_top, py_bot = 1.21 + 21.0 / 9069, 1.155 - 24.2 / 9069
axis_font = dict(family=FONT, size=10.5, color=TICK)

fig.update_layout(
    width=W, height=H, margin=dict(l=0, r=0, t=0, b=0), autosize=False,
    paper_bgcolor="#f1f4f8", plot_bgcolor="rgba(0,0,0,0)", showlegend=False, hovermode=False,
    barmode="overlay", dragmode=False,
    shapes=shapes, annotations=annotations,
    xaxis=dict(domain=[fx(7), fx(1435)], range=XR, type="linear", anchor="y", tickmode="array", tickvals=date_ticks,
               showticklabels=False, ticks="", gridcolor=GRID, gridwidth=1, showline=False, zeroline=False,
               rangeslider=dict(visible=False), fixedrange=True),
    yaxis=dict(domain=[fy(588), fy(44)], range=[py_bot, py_top], side="right", anchor="x", tickmode="array",
               tickvals=price_ticks, ticktext=[f"{p:.5f}" for p in price_ticks], tickfont=axis_font, ticks="outside",
               ticklen=5, tickcolor="rgba(0,0,0,0)", ticklabelshift=1, gridcolor=GRID, gridwidth=1, showline=False, zeroline=False, fixedrange=True),
    xaxis2=dict(domain=[fx(7), fx(1435)], range=XR, type="linear", anchor="y2", tickmode="array", tickvals=date_ticks,
                ticktext=date_labels, tickfont=axis_font, ticks="", ticklabelstandoff=1,
                gridcolor=GRID, gridwidth=1, showline=False, zeroline=False, fixedrange=True),
    yaxis2=dict(domain=[fy(863), fy(589)], range=[-7240, 116700], side="right", anchor="x2", tickmode="array",
                tickvals=volume_ticks, ticktext=[f"{v:.4f}" for v in volume_ticks], tickfont=axis_font, ticks="outside",
                ticklen=5, tickcolor="rgba(0,0,0,0)", ticklabelshift=1, gridcolor=GRID, gridwidth=1, showline=False, zeroline=False, fixedrange=True),
)

fig.write_html("out.html", config={"displayModeBar": False, "responsive": False},
               post_script="document.body.style.margin='0';document.body.style.overflow='hidden';")
